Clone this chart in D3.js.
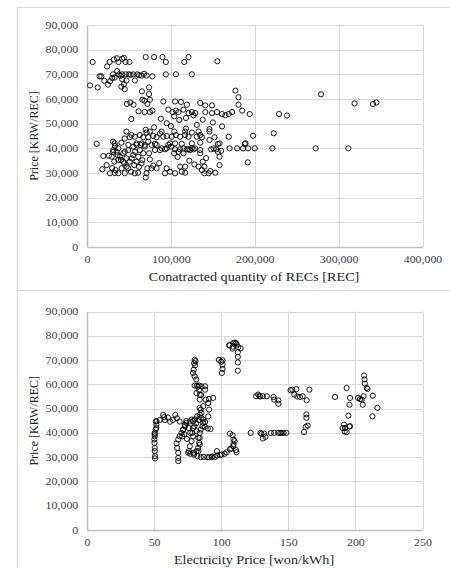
<!DOCTYPE html>
<html>
<head>
<meta charset="utf-8">
<title>REC price scatter</title>
<script src="https://d3js.org/d3.v7.min.js"></script>
<style>
  body { margin: 0; background: #fff; }
  text { font-family: "Liberation Serif", "Times New Roman", serif; }
</style>
</head>
<body>
<svg id="chart" width="450" height="568"></svg>
<script>
// ---- data (thousands of RECs / thousands of KRW) ----
var yTicks = [0, 10000, 20000, 30000, 40000, 50000, 60000, 70000, 80000, 90000];
var qtyTicks = [0, 100000, 200000, 300000, 400000];
var elecTicks = [0, 50, 100, 150, 200, 250];

// top chart: [contracted quantity (k REC), price (k KRW)]
var qtyPrice = [
  [6.7,75],[3.6,65.5],[12.7,64.7],[15,69.2],[17,69.2],[20.6,67.4],[25,65.8],[27.5,67.2],[30,68.5],[31,70],
  [24,73.2],[27,75],[32,76],[35.7,76.5],[37.5,75],[42,76.3],[44,76.7],[46,75],[50.7,75],[38,70],
  [36,71.3],[42,70],[46,70],[50,70],[55,70],[60,70],[65,69.5],[71,69.5],[78,69.2],[42,68],
  [44,66],[47,67.5],[41,65],[45,64],[70,77],[80,77],[90,77],[94,75],[94,70],[106,70],
  [125,70],[116,75],[121,77],[155.5,75.3],[62,69.6],[57,67.5],[52,69.8],[33,68.7],[40,69.4],[68,70.2],
  [65.5,63.1],[74,64.7],[74,62],[75,59.7],[66,59.7],[68.5,59.3],[72,58],[47.6,58],[51.6,58.6],[55.5,57.7],
  [91,59],[105,59],[112,58.8],[119,57.7],[135,58.4],[141,57.4],[149,57.4],
  [61.5,55],[68.7,54.7],[75,54.7],[78,55.3],[97,55.7],[102,54.7],[106,55.3],[109,54.7],[115,55.7],
  [121,54.3],[125,54.7],[129,54.3],[141,54.7],[149,54.3],[155,54.7],[161,53.9],[165,53.4],[169,53.9],[173,54.7],
  [177,63.4],[180.6,60.7],[180.6,57.7],[185,55.3],[194,53.9],[52.8,51.9],[104,53],[118,52.3],[127,53.4],[138,51.6],
  [161,48.9],[198,45.1],[222.6,46.1],[229,53.9],[238.5,53.3],[279,61.9],[319,58.2],[341,58],[345,58.6],
  [88,52],[95,50.2],[110,51.5],[131,49.5],[146,47.8],[80,48.5],[70,47.5],[100,49],[118,48],[150,50.5],
  [47,46.8],[57,44.7],[63,45.4],[71,46.4],[73,44.5],[79,45],[83,44.5],[87,46],[91,44.7],[95,45],
  [101,44.7],[106,45.4],[111,44.7],[117,45.4],[121,44.7],[125,46.4],[131,44.7],[135,45.4],[137,44.5],[146,46.8],
  [152,44.5],[169,44.7],[45,44],[51,44.5],[53,45.4],[67,44.5],[75,46.8],[89,46.8],[104,46.8],[117,46.8],
  [133,46.8],[11.5,41.8],[31,42.7],[33,42],[41,42.3],[59,41.4],[65,42],[69,41.4],[73,42.7],[81,41.8],
  [97,41.4],[105,42],[113,41.8],[125,42],[135,42.3],[146,43.4],[156,41.8],[188,41.8],[189,42],
  [89,40],[95,40],[100,40.7],[105,39.6],[111,39.6],[115,40],[121,39.6],[125,40],[129,40],[135,38],
  [148,39.6],[154,39.6],[160,39],[170,40],[179,40],[186,40],[192,40],[200,40],[221,40],[272.6,40],
  [311.5,40],[191.7,34.3],[158,36.6],[156,38.6],[138,34.6],[140,32.6],[158,33.2],[151,40],[158,42],
  [19.4,36.9],[18.3,31.5],[23.4,33.2],[27.4,29.9],[29.4,36.6],[31.3,38.6],[32.5,34.6],[34,31.2],[36.5,37.3],[37.3,40],
  [37.3,29.9],[40.5,35.3],[41.3,31.9],[43.3,38],[44.4,33.9],[45,29.9],[47,36],[49.2,31.9],[51,34.6],[52.4,30.5],
  [55,37.3],[56.3,33.2],[57,29.9],[59,34.6],[61,30.1],[63,39.3],[64,41.4],[67,38],[69,40.7],[70,28.2],
  [71,29.9],[72,31.9],[74,38],[75,35.5],[77,31.9],[83,31.9],[83,41.4],[93,29.9],[95,31.9],[99,30.5],
  [105,29.9],[111,32.6],[113,30.5],[117,32.6],[117,30.1],[133,32.6],[137,31.2],[140,29.9],[145,29.9],[153,30.1],
  [31.3,39.3],[33.3,40.9],[35.3,38.6],[37.3,35.3],[39.3,36.6],[43.3,34.6],[45.2,38.6],[47.2,32.6],[49.2,39.3],[53.2,35.9],
  [49.2,41.4],[55.2,40.7],[59.1,42],[57.1,38.6],[61.1,36.6],[65,33.9],[77,41.4],[81,39.3],[87,39.3],[93,39.6],
  [99,42],[104,38],[109,38.6],[115,38],[119,39.6],[123,39.3],[127,39.6],[135,39.3],[30,32],[26,37],
  [62,32.5],[66,35.2],[79,33],[86,34],[108,36.5],[122,35],[128,33.5],[142,36],[147,30.8],[33,30]
];

// bottom chart: [electricity price (won/kWh), price (k KRW)]
var elecPrice = [
  [80.3,70.1],[80.8,69.5],[79.8,68.7],[80.5,67.8],[79.5,66],[79,64.7],[80.2,63.3],[81.4,62],[80.2,59.5],[81.9,59.5],
  [83.6,59.5],[85.3,59.2],[88,59.2],[81.6,56.4],[84,55.7],[84,53.7],[84,50.3],[85.3,48.2],[86.6,51],[88.5,53.7],
  [90.3,52.3],[91,49.6],[90.3,46.8],[94,54.4],[88,57.8],[82.7,59],[83.4,57.7],[85,55.6],[84.6,49.5],[90.8,54],
  [98.3,70.1],[101,69.9],[101,68.1],[101,66.3],[100.5,64.7],[100,69.3],
  [106,76],[108.5,74.7],[109,77],[110,77.2],[111,77],[111.6,76.4],[112.7,75.3],[114.5,74.8],[112.4,73.2],[112.4,71.3],
  [112.4,69],[112.4,65.6],[108.7,75.5],[106.2,76.2],
  [126,55.1],[128.5,55.3],[131,55.1],[134,55.1],[139,54.8],[139.5,53.7],[142.6,53.4],[142.6,52],[127.5,55.8],[129,55],
  [153,57.8],[156,58],[154.5,55.8],[156.7,55],[158.7,54.8],[160.7,55.1],[163.7,53.4],[165.7,57.8],[151.7,57.6],[163.5,46.2],
  [163.5,47.6],[163,42.5],[161.7,40.4],[164.5,43],
  [184.8,54.8],[193.5,58.5],[196,54.4],[195.6,51.6],[194.8,47.1],[202,54.4],[204.7,53.7],[206,55.1],[205.5,51.6],[206.5,63.6],
  [206.8,62],[207,60.3],[208.5,58.5],[209,58.1],[213,55.3],[216.4,50.3],[212.7,46.8],[203.5,53.9],
  [190.5,42],[191.5,43.4],[192.3,42],[193.5,40.3],[196,42.7],[195.5,42.7],[192,40.6],
  [122,40],[129.3,40],[130,39.6],[131,37.7],[133,38.4],[137,40],[139.5,40],[142.5,40],[144,40],[145,40],
  [146.5,40],[148.5,40],[132,39.7],
  [50.5,40],[50.5,38.6],[50.2,37.3],[50.3,35.9],[50.5,33.8],[50.5,32.5],[50.7,30.4],[50.7,29.5],[51.2,41.4],[51.7,43.4],
  [51.9,44.8],[50.4,39.4],
  [68,28.4],[68,29.7],[68,31.8],[67.2,33.8],[66.7,35.6],[68,37.3],[69,38.6],[70.4,40],[71.6,41.4],[73,42.7],
  [74,44.1],[75.4,31.8],[76.6,34.5],[77.9,36.6],[79,38.6],[79.6,31.8],[81.6,32.5],[82.8,33.8],[83.6,35.9],[84,37.9],
  [84,40],[84.8,41.4],[86,42.7],[86.6,44.1],[84.8,30],[87,30.1],[89.6,30],[92.8,30],[95.3,30.1],[97,30.7],
  [100.2,31.1],[104,32],[106.5,33.2],[109,34.5],[111,32.9],[111.4,32],[110,36.6],[108.5,39],[106.5,39.7],[92,41.6],
  [87.8,42.5],[77,40],[79,42],[81.6,40.7],[76,32.5],[77,31.4],[79.7,31.1],[82.2,30.4],[96.8,32.5],[99.3,30.8],
  [102.6,31.4],[107.5,33.6],[109.2,35.2],[109.2,37.3],[83,38],[84,35.2],[83,32.5],[76,42],[78.5,40],[80,42.7],
  [90,41.8],[71,38.6],[72.5,39.5],[74.5,37.5],[93.6,30.3],[91,30],
  [51.2,44.7],[54.2,45.3],[56.7,47.4],[58,45.3],[60.4,46.3],[64,45.3],[65.8,47.4],[69,44.7],[74,44.9],[76.5,44.7],
  [79,44.9],[81.4,44],[83.4,45.3],[85,46.3],[51.7,42],[71.5,41.2],[72.8,43.3],[57.5,46.5],[62,44.6],[67,46],
  [78,45.5],[80.5,45.6],[82,46.8],[84,47.5],[86.5,45.5],[88,44.5]
];

// ---- drawing ----
var svg = d3.select("#chart");
var fmt = d3.format(",");
var stretch = 1.25; // the source picture is a bit wider than tall

function drawPanel(opt) {
  var g = svg.append("g");

  // chart area frame
  g.append("rect")
    .attr("x", 17.5).attr("y", opt.boxTop + 0.5)
    .attr("width", 440).attr("height", opt.boxH)
    .attr("fill", "#fff").attr("stroke", "#d9d9d9");

  var x = d3.scaleLinear().domain(opt.xDomain).range([87, 422.5]);
  var y = d3.scaleLinear().domain([0, 90000]).range([opt.plotBottom, opt.plotTop]);

  // grid
  g.append("g").selectAll("line").data(yTicks.slice(1)).enter().append("line")
    .attr("x1", x(opt.xDomain[0])).attr("x2", x(opt.xDomain[1]))
    .attr("y1", d => Math.round(y(d)) + 0.5).attr("y2", d => Math.round(y(d)) + 0.5)
    .attr("stroke", "#d9d9d9").attr("stroke-width", 1);
  g.append("g").selectAll("line").data(opt.xTicks.slice(1)).enter().append("line")
    .attr("x1", d => Math.round(x(d)) + 0.5).attr("x2", d => Math.round(x(d)) + 0.5)
    .attr("y1", y(0)).attr("y2", y(90000))
    .attr("stroke", "#d9d9d9").attr("stroke-width", 1);

  // axes
  var yAxis = d3.axisLeft(y).tickValues(yTicks).tickFormat(fmt).tickSize(0).tickPadding(7);
  var xAxis = d3.axisBottom(x).tickValues(opt.xTicks).tickFormat(opt.xFmt).tickSize(0).tickPadding(9);

  var ya = g.append("g").attr("transform", "translate(87,0)").call(yAxis);
  var xa = g.append("g").attr("transform", "translate(0," + y(0) + ")").call(xAxis);
  [ya, xa].forEach(function (a) {
    a.select(".domain").attr("stroke", "#bfbfbf").attr("stroke-width", 1.5);
    a.selectAll("text")
      .attr("font-family", "Liberation Serif").attr("font-size", 9.5).attr("fill", "#404040")
      .attr("transform", "scale(" + stretch + ",1)");
  });

  // points
  g.append("g").selectAll("circle").data(opt.data).enter().append("circle")
    .attr("cx", d => x(d[0] * opt.xMul))
    .attr("cy", d => y(d[1] * 1000))
    .attr("r", 2.6)
    .attr("fill", "none")
    .attr("stroke", "#000")
    .attr("stroke-width", 0.9);

  // titles
  g.append("text")
    .attr("transform", "translate(254," + opt.xTitleY + ") scale(1.18,1)")
    .attr("text-anchor", "middle")
    .attr("font-size", 12).attr("fill", "#262626")
    .text(opt.xTitle);
  g.append("text")
    .attr("transform", "translate(38," + ((opt.plotTop + opt.plotBottom) / 2) + ") rotate(-90)")
    .attr("text-anchor", "middle")
    .attr("font-size", 12).attr("fill", "#262626")
    .text("Price [KRW/REC]");
}

drawPanel({
  boxTop: 7, boxH: 283,
  plotTop: 25, plotBottom: 247,
  xDomain: [0, 400000], xTicks: qtyTicks, xFmt: fmt, xMul: 1000,
  data: qtyPrice,
  xTitle: "Conatracted quantity of RECs [REC]", xTitleY: 281
});

drawPanel({
  boxTop: 290, boxH: 290,
  plotTop: 311.5, plotBottom: 530,
  xDomain: [0, 250], xTicks: elecTicks, xFmt: d3.format("d"), xMul: 1,
  data: elecPrice,
  xTitle: "Electricity Price [won/kWh]", xTitleY: 564
});
</script>
</body>
</html>
